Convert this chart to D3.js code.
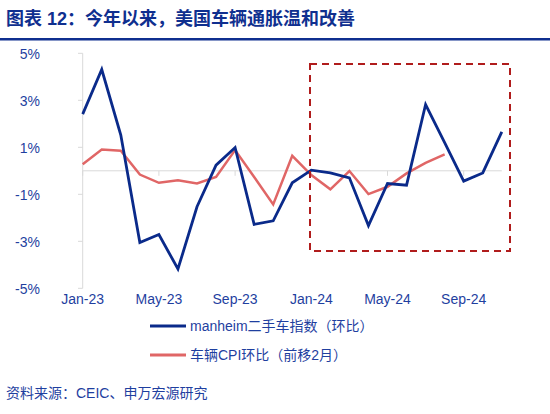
<!DOCTYPE html><html><head><meta charset="utf-8"><script src="https://cdn.jsdelivr.net/npm/d3@7"></script>
<style>body{margin:0;background:#fff}svg{font-family:Arial,"Liberation Sans","Noto Sans CJK SC",sans-serif}</style></head><body><svg id="c" width="550" height="414"></svg>
<script>
const months=["Jan-23","Feb-23","Mar-23","Apr-23","May-23","Jun-23","Jul-23","Aug-23","Sep-23","Oct-23","Nov-23","Dec-23","Jan-24","Feb-24","Mar-24","Apr-24","May-24","Jun-24","Jul-24","Aug-24","Sep-24","Oct-24","Nov-24"];
const manheim=[2.41,4.31,1.52,-3.05,-2.71,-4.18,-1.53,0.24,0.99,-2.28,-2.13,-0.51,0.03,-0.09,-0.30,-2.33,-0.54,-0.61,2.82,1.2,-0.44,-0.09,1.66];
const cpi=[0.28,0.91,0.85,-0.16,-0.51,-0.40,-0.54,-0.26,0.88,-0.26,-1.43,0.64,-0.18,-0.79,-0.01,-0.99,-0.68,-0.11,0.34,0.70];
const yTicks=[5,3,1,-1,-3,-5];
const xTickLabels=["Jan-23","May-23","Sep-23","Jan-24","May-24","Sep-24"];
const svg=d3.select("#c");
const navy="#0a2a8a",red="#e06666",dark="#b01c1c";
svg.append("text").attr("x",6).attr("y",25).attr("fill","#0f2f8f").attr("font-size",18).attr("font-weight","bold").text("图表 12：今年以来，美国车辆通胀温和改善");
svg.append("rect").attr("x",0).attr("y",38).attr("width",550).attr("height",2.5).attr("fill","#0f2f8f");
const x=d3.scalePoint().domain(months).range([82.7,501.8]);
const y=d3.scaleLinear().domain([-5,5]).range([288.3,53.3]);
svg.append("line").attr("x1",82.7).attr("x2",82.7).attr("y1",y(5)).attr("y2",y(-5)).attr("stroke","#d9d9d9");
yTicks.forEach(t=>{svg.append("line").attr("x1",78).attr("x2",82.7).attr("y1",y(t)).attr("y2",y(t)).attr("stroke","#d9d9d9");
svg.append("text").attr("x",40).attr("y",y(t)+6).attr("text-anchor","end").attr("font-size",14).attr("fill","#1f3f9f").text(t+"%");});
svg.append("line").attr("x1",82.7).attr("x2",501.8).attr("y1",y(0)).attr("y2",y(0)).attr("stroke","#d9d9d9");
xTickLabels.forEach(m=>{svg.append("line").attr("x1",x(m)).attr("x2",x(m)).attr("y1",y(0)).attr("y2",y(0)+5).attr("stroke","#d9d9d9");
svg.append("text").attr("x",x(m)).attr("y",304).attr("text-anchor","middle").attr("font-size",14).attr("fill","#1f3f9f").text(m);});
const line=d3.line().x((d,i)=>x(months[i])).y(d=>y(d));
svg.append("path").datum(cpi).attr("d",line).attr("fill","none").attr("stroke",red).attr("stroke-width",2.5);
svg.append("path").datum(manheim).attr("d",line).attr("fill","none").attr("stroke",navy).attr("stroke-width",2.8);
svg.append("rect").attr("x",310).attr("y",64).attr("width",200).attr("height",187).attr("fill","none").attr("stroke",dark).attr("stroke-width",2).attr("stroke-dasharray","7,5");
[[navy,"manheim二手车指数（环比）",326],[red,"车辆CPI环比（前移2月）",355]].forEach(([c,t,yy])=>{
svg.append("line").attr("x1",150).attr("x2",186).attr("y1",yy).attr("y2",yy).attr("stroke",c).attr("stroke-width",2.8);
svg.append("text").attr("x",190).attr("y",yy+5).attr("font-size",14).attr("fill","#1f3f9f").text(t);});
svg.append("text").attr("x",6).attr("y",398).attr("font-size",14).attr("fill","#1f3f9f").text("资料来源：CEIC、申万宏源研究");
</script></body></html>
